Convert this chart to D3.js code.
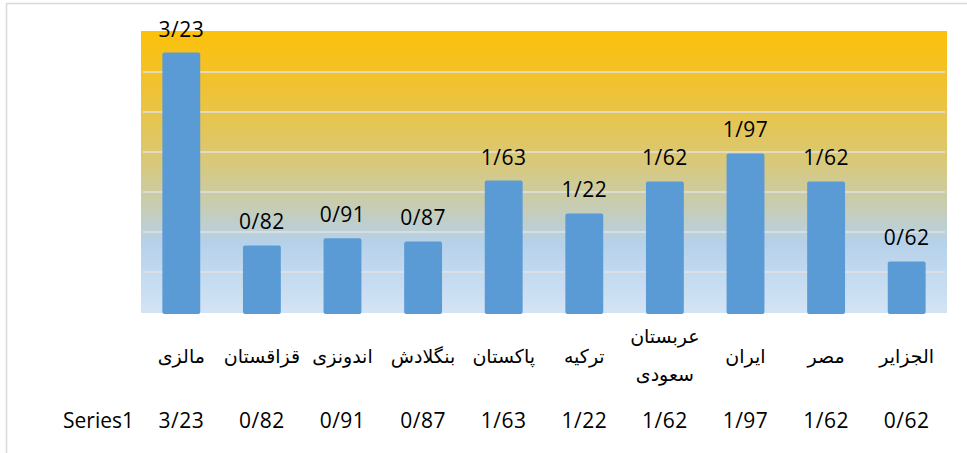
<body style="margin:0;background:#fff">
<script src="https://d3js.org/d3.v7.min.js"></script>
<style>
  text { font-family: "Open Sans", sans-serif; fill: #000; }
  .cat { font-family: "DejaVu Sans", sans-serif; font-size: 19px; }
</style>
<script>
// chart values
var categories = ["مالزی", "قزاقستان", "اندونزی", "بنگلادش", "پاکستان", "ترکیه", "عربستان سعودی", "ایران", "مصر", "الجزایر"];
var values = [3.23, 0.82, 0.91, 0.87, 1.63, 1.22, 1.62, 1.97, 1.62, 0.62];
var seriesName = "Series1";
var yTicks = [0, 0.5, 1, 1.5, 2, 2.5, 3, 3.5];

var W = 967, H = 453,
    plot = {left: 141, right: 947, top: 31, bottom: 311};

var svg = d3.select("body").append("svg")
    .attr("width", W)
    .attr("height", H);

// outer frame
svg.append("rect")
    .attr("x", 6.5).attr("y", 3.5)
    .attr("width", W + 10).attr("height", H + 10)
    .attr("fill", "none")
    .attr("stroke", "#d9d9d9")
    .attr("stroke-width", 1.5);

var x = d3.scaleBand()
    .domain(categories)
    .range([plot.left, plot.right])
    .paddingInner(0.53)
    .paddingOuter(0.265);

var y = d3.scaleLinear()
    .domain([0, 3.5])
    .range([plot.bottom, plot.top]);

var fmt = d => d3.format(".2f")(d).replace(".", "/");

// plot area gradient
var grad = svg.append("defs").append("linearGradient")
    .attr("id", "bg")
    .attr("x1", 0).attr("y1", 0).attr("x2", 0).attr("y2", 1);
[["0%", "#fdc10a"], ["20%", "#f0c232"], ["45%", "#dac874"], ["63%", "#c6cdb6"], ["75%", "#b5d1ea"], ["100%", "#d3e4f5"]]
    .forEach(s => grad.append("stop").attr("offset", s[0]).attr("stop-color", s[1]));

svg.append("rect")
    .attr("x", plot.left).attr("y", plot.top)
    .attr("width", plot.right - plot.left)
    .attr("height", plot.bottom - plot.top + 2)
    .attr("fill", "url(#bg)");

// gridlines
svg.append("g")
    .selectAll("line")
    .data(yTicks.filter(t => t > 0 && t < 3.5))
    .enter().append("line")
    .attr("x1", plot.left + 2).attr("x2", plot.right - 2)
    .attr("y1", d => y(d) + 1).attr("y2", d => y(d) + 1)
    .attr("stroke", "#e2e2e2")
    .attr("stroke-width", 1.5);

// bars
svg.append("g")
    .selectAll("rect")
    .data(values)
    .enter().append("rect")
    .attr("x", (d, i) => x(categories[i]))
    .attr("width", x.bandwidth())
    .attr("y", d => y(d))
    .attr("height", d => plot.bottom + 3 - y(d))
    .attr("rx", 2)
    .attr("fill", "#5b9bd5");

// value labels
svg.append("g")
    .selectAll("text")
    .data(values)
    .enter().append("text")
    .attr("x", (d, i) => x(categories[i]) + x.bandwidth() / 2)
    .attr("y", d => y(d) - 16)
    .attr("text-anchor", "middle")
    .style("font-size", "21px")
    .style("letter-spacing", "0.5px")
    .text(fmt);

// category labels
var cats = svg.append("g")
    .selectAll("text")
    .data(categories)
    .enter().append("text")
    .attr("class", "cat")
    .attr("text-anchor", "middle")
    .attr("direction", "rtl")
    .attr("x", d => x(d) + x.bandwidth() / 2)
    .attr("y", 363);

cats.each(function(d) {
    var words = d.split(" ");
    var t = d3.select(this);
    if (words.length === 1) {
        t.text(d);
    } else {
        words.forEach((w, k) => {
            t.append("tspan")
                .attr("x", t.attr("x"))
                .attr("y", 343 + k * 38)
                .text(w);
        });
    }
});

// data table row
svg.append("text")
    .attr("x", 134).attr("y", 428)
    .attr("text-anchor", "end")
    .style("font-size", "21px")
    .text(seriesName);

svg.append("g")
    .selectAll("text")
    .data(values)
    .enter().append("text")
    .attr("x", (d, i) => x(categories[i]) + x.bandwidth() / 2)
    .attr("y", 428)
    .attr("text-anchor", "middle")
    .style("font-size", "21px")
    .style("letter-spacing", "0.5px")
    .text(fmt);
</script>
</body>
